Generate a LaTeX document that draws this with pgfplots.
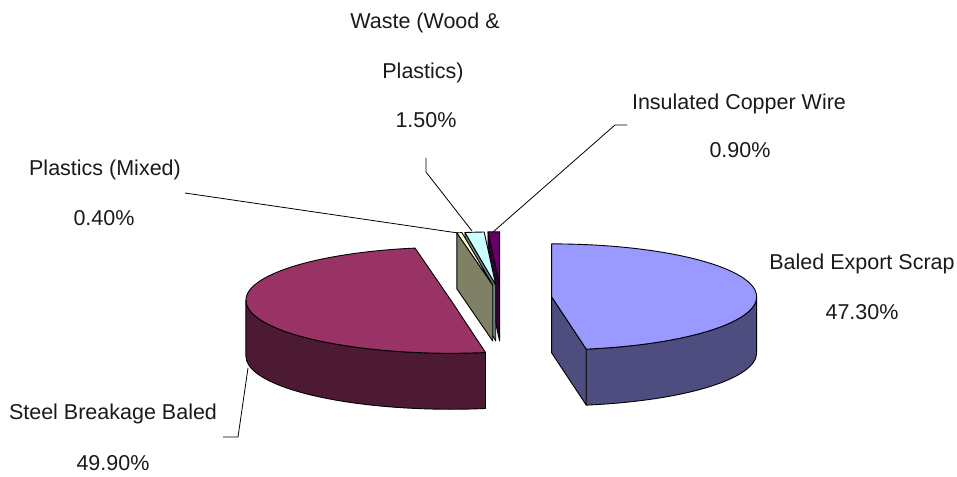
\documentclass[border=0pt]{standalone}
\usepackage{pgfplots}
\pgfplotsset{compat=1.18}
\usepackage{fontspec}
\setmainfont{Liberation Sans}

\definecolor{balTop}{HTML}{9999FF}
\definecolor{balSide}{HTML}{4D4D80}
\definecolor{steTop}{HTML}{993366}
\definecolor{steSide}{HTML}{4D1A33}
\definecolor{plaTop}{HTML}{FFFFCC}
\definecolor{plaSide}{HTML}{808066}
\definecolor{wasTop}{HTML}{CCFFFF}
\definecolor{wasSide}{HTML}{668080}
\definecolor{copTop}{HTML}{660066}
\definecolor{copSide}{HTML}{330033}
\definecolor{txt}{HTML}{1A1A1A}

% data (percent)
\def\vA{47.3} % Baled Export Scrap
\def\vB{49.9} % Steel Breakage Baled
\def\vC{0.4}  % Plastics (Mixed)
\def\vD{1.5}  % Waste (Wood & Plastics)
\def\vE{0.9}  % Insulated Copper Wire

% geometry
\def\Ox{501}\def\Oy{178}\def\rx{205}\def\ry{53}\def\dep{56}\def\ex{0.248}

\pgfmathsetmacro\aS{90}
\pgfmathsetmacro\aB{\aS-3.6*\vA}
\pgfmathsetmacro\aC{\aB-3.6*\vB}
\pgfmathsetmacro\aD{\aC-3.6*\vC}
\pgfmathsetmacro\aE{\aD-3.6*\vD}
\pgfmathsetmacro\aF{\aE-3.6*\vE}
% apex of each exploded slice
\pgfmathsetmacro\AxA{\Ox+\ex*\rx*cos((\aS+\aB)/2)}
\pgfmathsetmacro\AyA{\Oy+\ex*\ry*sin((\aS+\aB)/2)}
\pgfmathsetmacro\AxB{\Ox+\ex*\rx*cos((\aB+\aC)/2)}
\pgfmathsetmacro\AyB{\Oy+\ex*\ry*sin((\aB+\aC)/2)}
\pgfmathsetmacro\AxC{\Ox+\ex*\rx*cos((\aC+\aD)/2)}
\pgfmathsetmacro\AyC{\Oy+\ex*\ry*sin((\aC+\aD)/2)}
\pgfmathsetmacro\AxD{\Ox+\ex*\rx*cos((\aD+\aE)/2)}
\pgfmathsetmacro\AyD{\Oy+\ex*\ry*sin((\aD+\aE)/2)}
\pgfmathsetmacro\AxE{\Ox+\ex*\rx*cos((\aE+\aF)/2)}
\pgfmathsetmacro\AyE{\Oy+\ex*\ry*sin((\aE+\aF)/2)}

\tikzset{edge/.style={draw=black, line width=0.9pt, line join=round}}

% top face: apex x, apex y, start angle, end angle, colour
\newcommand\topface[5]{%
  \fill[edge, fill=#5] (axis cs:#1,#2) -- (axis cs:{#1+\rx*cos(#3)},{#2+\ry*sin(#3)})
    arc[start angle=#3, end angle=#4, x radius=\rx pt, y radius=\ry pt] -- cycle;}
% outer side: apex x, apex y, from angle, to angle, colour
\newcommand\outerside[5]{%
  \fill[edge, fill=#5] (axis cs:{#1+\rx*cos(#3)},{#2+\ry*sin(#3)})
    arc[start angle=#3, end angle=#4, x radius=\rx pt, y radius=\ry pt]
    -- ++(0pt,-\dep pt)
    arc[start angle=#4, end angle=#3, x radius=\rx pt, y radius=\ry pt] -- cycle;}
% radial face: apex x, apex y, angle, colour
\newcommand\radial[4]{%
  \fill[edge, fill=#4] (axis cs:#1,#2) -- (axis cs:{#1+\rx*cos(#3)},{#2+\ry*sin(#3)})
    -- ++(0pt,-\dep pt) -- (axis cs:#1,{#2-\dep}) -- cycle;}

\begin{document}
\begin{tikzpicture}
\begin{axis}[x=1pt, y=1pt, xmin=0, xmax=957, ymin=0, ymax=476,
  hide axis, clip=false, disabledatascaling, anchor=origin, at={(0,0)}]
\addplot[draw=none, forget plot] coordinates {(0,0) (957,476)};

% small slices (back)
\radial{\AxE}{\AyE}{\aE}{copSide}
\topface{\AxE}{\AyE}{\aE}{\aF}{copTop}
\radial{\AxD}{\AyD}{\aD}{wasSide}
\topface{\AxD}{\AyD}{\aD}{\aE}{wasTop}
\radial{\AxC}{\AyC}{\aC}{plaSide}
\topface{\AxC}{\AyC}{\aC}{\aD}{plaTop}

% Steel Breakage Baled
\outerside{\AxB}{\AyB}{-180}{\aB}{steSide}
\topface{\AxB}{\AyB}{\aB}{\aC}{steTop}

% Baled Export Scrap
\radial{\AxA}{\AyA}{\aB}{balSide}
\outerside{\AxA}{\AyA}{\aB}{0}{balSide}
\topface{\AxA}{\AyA}{\aS}{\aB}{balTop}

% leader lines
\addplot[black, line width=0.8pt, forget plot] coordinates {(185,283) (458,243)};
\addplot[black, line width=0.8pt, forget plot] coordinates {(426,318) (426,304) (472,245)};
\addplot[black, line width=0.8pt, forget plot] coordinates {(627,351) (615,351) (493,244)};
\addplot[black, line width=0.8pt, forget plot] coordinates {(248,108) (238,39) (223,39)};

% labels
\begin{scope}[every node/.style={inner sep=0pt, anchor=base, text=txt, font=\fontsize{21.5}{25}\selectfont}]
\node at (axis cs:425,447.5) {Waste (Wood \&};
\node at (axis cs:423,397.5) {Plastics)};
\node at (axis cs:426,348.5) {1.50\%};
\node at (axis cs:105,300.5) {Plastics (Mixed)};
\node at (axis cs:104,250.5) {0.40\%};
\node at (axis cs:739,366.5) {Insulated Copper Wire};
\node at (axis cs:740,318.5) {0.90\%};
\node at (axis cs:862,206.5) {Baled Export Scrap};
\node at (axis cs:862,156.5) {47.30\%};
\node at (axis cs:113,56.5) {Steel Breakage Baled};
\node at (axis cs:113,5.5) {49.90\%};
\end{scope}
\end{axis}
\end{tikzpicture}
\end{document}
